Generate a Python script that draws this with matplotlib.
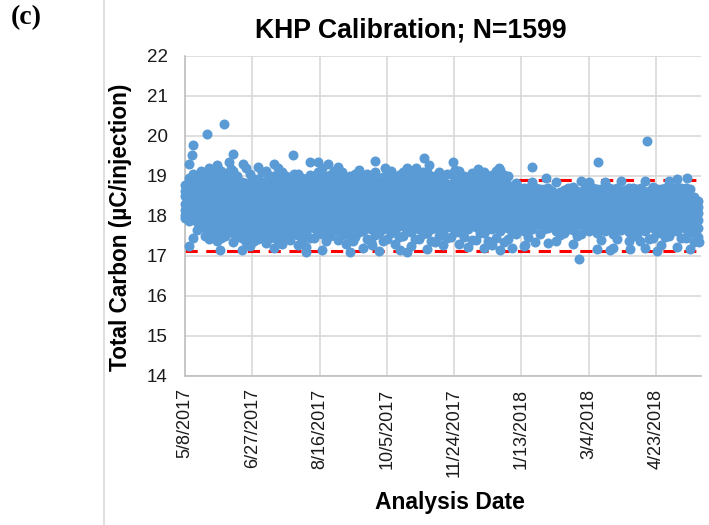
import numpy as np
import matplotlib
matplotlib.use('Agg')
import matplotlib.pyplot as plt

plt.rcParams['font.family'] = ['Liberation Sans', 'DejaVu Sans']

tick_days = [0, 50, 100, 150, 200, 250, 300, 350]
tick_labels = ['5/8/2017', '6/27/2017', '8/16/2017', '10/5/2017', '11/24/2017',
               '1/13/2018', '3/4/2018', '4/23/2018']
y_ticks = [14, 15, 16, 17, 18, 19, 20, 21, 22]
upper_limit = 18.89
lower_limit = 17.12

# days since 5/8/2017, each one has its readings in column_carbon
column_days = list(range(0, 384, 6))
column_carbon = [
    [17.95, 18.02, 18.15, 18.3, 18.5, 18.62, 18.78],
    [17.45, 17.98, 18.2, 18.4, 18.6, 18.85, 19.05],
    [17.75, 17.95, 18.18, 18.38, 18.55, 18.75, 18.95, 19.12],
    [17.42, 17.6, 17.82, 18.05, 18.25, 18.48, 18.7, 18.9, 19.2],
    [17.38, 17.55, 17.78, 17.98, 18.2, 18.42, 18.62, 18.82, 19.02, 19.22],
    [17.5, 17.72, 17.92, 18.12, 18.35, 18.55, 18.75, 18.98],
    [17.35, 17.58, 17.8, 18.02, 18.25, 18.45, 18.68, 18.88, 19.12],
    [17.15, 17.45, 17.68, 17.9, 18.1, 18.32, 18.52, 18.72, 18.85],
    [17.25, 17.5, 17.75, 17.95, 18.18, 18.4, 18.6, 18.82, 19.05],
    [17.42, 17.62, 17.85, 18.05, 18.28, 18.5, 18.7, 18.92, 19.22],
    [17.32, 17.55, 17.78, 18.0, 18.2, 18.42, 18.64, 18.86, 19.12],
    [17.2, 17.48, 17.7, 17.92, 18.12, 18.35, 18.55, 18.78, 18.98],
    [17.3, 17.58, 17.82, 18.02, 18.25, 18.46, 18.68, 18.9, 19.1],
    [17.4, 17.66, 17.88, 18.1, 18.3, 18.52, 18.72, 18.94],
    [17.28, 17.52, 17.75, 17.98, 18.2, 18.4, 18.62, 18.84, 19.05],
    [17.22, 17.6, 17.85, 18.05, 18.26, 18.48, 18.7, 18.92],
    [17.45, 17.7, 17.92, 18.12, 18.34, 18.55, 18.76, 19.0],
    [17.15, 17.55, 17.8, 18.0, 18.22, 18.44, 18.66, 18.88, 19.18],
    [17.5, 17.74, 17.95, 18.16, 18.38, 18.6, 18.8, 19.02],
    [17.4, 17.65, 17.86, 18.08, 18.3, 18.5, 18.72, 18.95, 19.22],
    [17.3, 17.58, 17.8, 18.02, 18.24, 18.46, 18.68, 18.9],
    [17.48, 17.72, 17.94, 18.14, 18.36, 18.58, 18.8, 19.05],
    [17.2, 17.62, 17.84, 18.05, 18.28, 18.5, 18.7, 18.96],
    [17.35, 17.68, 17.9, 18.12, 18.32, 18.54, 18.76, 19.0],
    [17.12, 17.56, 17.78, 18.0, 18.22, 18.42, 18.64, 18.86],
    [17.42, 17.7, 17.92, 18.14, 18.35, 18.56, 18.78, 19.02],
    [17.3, 17.62, 17.86, 18.06, 18.28, 18.48, 18.7, 18.92],
    [17.5, 17.74, 17.96, 18.18, 18.38, 18.6, 18.82, 19.08],
    [17.25, 17.6, 17.82, 18.04, 18.26, 18.46, 18.68, 18.9, 19.12],
    [17.42, 17.66, 17.9, 18.1, 18.32, 18.54, 18.75, 18.98],
    [17.18, 17.56, 17.8, 18.02, 18.22, 18.44, 18.66, 18.88, 19.08],
    [17.35, 17.7, 17.92, 18.14, 18.34, 18.56, 18.78, 19.0],
    [17.26, 17.62, 17.85, 18.06, 18.28, 18.5, 18.7, 18.94],
    [17.48, 17.72, 17.94, 18.16, 18.36, 18.58, 18.8, 19.04],
    [17.3, 17.6, 17.82, 18.04, 18.26, 18.48, 18.68, 18.9, 19.12],
    [17.22, 17.66, 17.88, 18.1, 18.3, 18.52, 18.74, 18.96],
    [17.4, 17.72, 17.94, 18.14, 18.36, 18.56, 18.78, 19.0],
    [17.2, 17.58, 17.8, 18.02, 18.24, 18.46, 18.66, 18.88, 19.1],
    [17.26, 17.68, 17.9, 18.12, 18.32, 18.54, 18.76, 19.02],
    [17.15, 17.62, 17.84, 18.06, 18.28, 18.48, 18.7, 18.92, 19.14],
    [17.42, 17.7, 17.92, 18.14, 18.34, 18.56, 18.78, 18.98],
    [17.55, 17.78, 18.0, 18.2, 18.42, 18.62, 18.82],
    [17.25, 17.62, 17.86, 18.08, 18.28, 18.5, 18.7],
    [17.68, 17.9, 18.12, 18.32, 18.54, 18.84],
    [17.55, 17.8, 18.02, 18.22, 18.44, 18.66],
    [17.7, 17.92, 18.12, 18.34, 18.56, 18.7],
    [17.38, 17.62, 17.85, 18.06, 18.28, 18.5, 18.84],
    [17.58, 17.78, 18.0, 18.22, 18.42, 18.64],
    [17.3, 17.65, 17.88, 18.1, 18.3, 18.52, 18.72],
    [17.55, 17.8, 18.02, 18.24, 18.46, 18.86],
    [17.62, 17.85, 18.06, 18.28, 18.5, 18.85],
    [17.18, 17.58, 17.8, 18.02, 18.24, 18.46, 18.68],
    [17.62, 17.86, 18.08, 18.3, 18.52, 18.85],
    [17.2, 17.55, 17.78, 18.0, 18.22, 18.44, 18.66],
    [17.65, 17.88, 18.1, 18.32, 18.54, 18.86],
    [17.38, 17.6, 17.82, 18.04, 18.26, 18.48, 18.7],
    [17.55, 17.78, 18.0, 18.22, 18.44, 18.66],
    [17.2, 17.62, 17.86, 18.08, 18.3, 18.52, 18.86],
    [17.45, 17.7, 17.92, 18.14, 18.36, 18.58, 18.72],
    [17.28, 17.58, 17.8, 18.02, 18.24, 18.46, 18.68],
    [17.5, 17.74, 17.96, 18.18, 18.4, 18.62, 18.86],
    [17.22, 17.62, 17.85, 18.06, 18.28, 18.5, 18.72, 18.92],
    [17.45, 17.68, 17.9, 18.12, 18.34, 18.56, 18.7],
    [17.35, 17.6, 17.82, 17.98, 18.15, 18.3, 18.48],
]

# second pass of readings, falling between the columns above
between_days = list(range(3, 384, 6))
between_carbon = [
    [17.25, 17.88, 18.1, 18.28, 18.5, 18.72, 18.95],
    [17.65, 17.85, 18.08, 18.3, 18.5, 18.72, 18.95],
    [17.5, 17.7, 17.92, 18.12, 18.32, 18.55, 18.78, 19.05],
    [17.72, 17.92, 18.15, 18.35, 18.58, 18.8, 19.1],
    [17.45, 17.65, 17.88, 18.1, 18.3, 18.52, 18.72, 18.92, 19.12],
    [17.62, 17.82, 18.02, 18.25, 18.45, 18.65, 18.88, 19.08],
    [17.48, 17.68, 17.9, 18.12, 18.35, 18.56, 18.78, 19.0],
    [17.35, 17.58, 17.8, 18.0, 18.22, 18.42, 18.62, 18.82, 19.18],
    [17.38, 17.62, 17.85, 18.06, 18.28, 18.5, 18.7, 18.92],
    [17.52, 17.74, 17.95, 18.16, 18.38, 18.6, 18.8, 19.1],
    [17.44, 17.66, 17.88, 18.1, 18.3, 18.52, 18.75, 18.98],
    [17.36, 17.6, 17.82, 18.02, 18.24, 18.45, 18.66, 18.88, 19.2],
    [17.46, 17.7, 17.92, 18.14, 18.36, 18.56, 18.78, 19.0],
    [17.55, 17.78, 17.98, 18.2, 18.42, 18.62, 18.84, 19.05],
    [17.4, 17.64, 17.86, 18.08, 18.3, 18.5, 18.72, 18.95],
    [17.44, 17.72, 17.95, 18.16, 18.36, 18.58, 18.8, 19.02],
    [17.58, 17.8, 18.02, 18.22, 18.44, 18.65, 18.86, 19.1],
    [17.38, 17.68, 17.9, 18.1, 18.32, 18.54, 18.76, 18.98],
    [17.62, 17.84, 18.05, 18.26, 18.48, 18.7, 18.9, 19.12],
    [17.52, 17.75, 17.96, 18.18, 18.4, 18.6, 18.82, 19.08],
    [17.44, 17.68, 17.9, 18.12, 18.34, 18.56, 18.78, 19.0],
    [17.6, 17.82, 18.04, 18.24, 18.46, 18.68, 18.9, 19.15],
    [17.42, 17.72, 17.94, 18.15, 18.38, 18.6, 18.8, 19.04],
    [17.52, 17.78, 18.0, 18.22, 18.42, 18.64, 18.86, 19.08],
    [17.36, 17.66, 17.88, 18.1, 18.32, 18.52, 18.74, 18.96],
    [17.56, 17.8, 18.02, 18.24, 18.45, 18.66, 18.88, 19.12],
    [17.46, 17.74, 17.96, 18.16, 18.38, 18.58, 18.8, 19.02],
    [17.62, 17.84, 18.06, 18.28, 18.48, 18.7, 18.92, 19.18],
    [17.42, 17.7, 17.92, 18.14, 18.36, 18.56, 18.78, 19.0],
    [17.54, 17.78, 18.0, 18.2, 18.42, 18.64, 18.85, 19.08],
    [17.38, 17.68, 17.9, 18.12, 18.32, 18.54, 18.76, 18.98],
    [17.5, 17.8, 18.02, 18.24, 18.44, 18.66, 18.88, 19.1],
    [17.44, 17.72, 17.95, 18.16, 18.38, 18.6, 18.8, 19.04],
    [17.6, 17.82, 18.04, 18.26, 18.46, 18.68, 18.9, 19.14],
    [17.46, 17.7, 17.92, 18.14, 18.36, 18.58, 18.78, 19.0],
    [17.4, 17.76, 17.98, 18.2, 18.4, 18.62, 18.84, 19.06],
    [17.56, 17.82, 18.04, 18.24, 18.46, 18.66, 18.88, 19.1],
    [17.38, 17.68, 17.9, 18.12, 18.34, 18.56, 18.76, 18.98],
    [17.44, 17.78, 18.0, 18.22, 18.42, 18.64, 18.86, 19.12],
    [17.34, 17.72, 17.94, 18.16, 18.38, 18.58, 18.8, 19.02],
    [17.56, 17.8, 18.02, 18.24, 18.44, 18.66, 18.72],
    [17.66, 17.88, 18.1, 18.3, 18.52, 18.7],
    [17.48, 17.74, 17.96, 18.18, 18.38, 18.6, 18.7],
    [17.78, 18.0, 18.22, 18.42, 18.64, 18.7],
    [17.66, 17.9, 18.12, 18.32, 18.54, 18.66],
    [17.8, 18.02, 18.22, 18.44, 18.62],
    [17.52, 17.74, 17.96, 18.16, 18.38, 18.6],
    [17.68, 17.88, 18.1, 18.32, 18.52, 18.7],
    [17.5, 17.76, 17.98, 18.2, 18.4, 18.62],
    [17.66, 17.9, 18.12, 18.34, 18.56, 18.7],
    [17.74, 17.96, 18.16, 18.38, 18.6, 18.7],
    [17.4, 17.68, 17.9, 18.12, 18.34, 18.56, 18.68],
    [17.74, 17.96, 18.18, 18.4, 18.62, 18.7],
    [17.42, 17.66, 17.88, 18.1, 18.32, 18.54, 18.7],
    [17.76, 17.98, 18.2, 18.42, 18.64],
    [17.5, 17.7, 17.92, 18.14, 18.36, 18.58, 18.7],
    [17.66, 17.88, 18.1, 18.32, 18.54, 18.7],
    [17.42, 17.74, 17.96, 18.18, 18.4, 18.62],
    [17.58, 17.8, 18.02, 18.24, 18.46, 18.68],
    [17.46, 17.68, 17.9, 18.12, 18.34, 18.56, 18.7],
    [17.62, 17.84, 18.06, 18.28, 18.5, 18.7],
    [17.44, 17.74, 17.96, 18.16, 18.38, 18.6, 18.7],
    [17.56, 17.78, 18.0, 18.22, 18.44, 18.66],
    [17.48, 17.7, 17.9, 18.06, 18.22, 18.38],
]

# points that stand clear of the main cloud
outlier_days = [29, 16, 6, 5, 3, 36, 80, 141, 93, 99, 106, 24, 33, 34, 43, 66, 149,
                178, 181, 172, 199, 218, 233, 258, 307, 343, 268, 373, 293, 165, 243,
                253, 260, 270, 338, 351, 375, 382, 331, 316, 123, 90, 26, 139, 125, 160]
outlier_carbon = [20.3, 20.05, 19.77, 19.52, 19.3, 19.55, 19.52, 19.37, 19.35, 19.33, 19.3,
                  19.27, 19.33, 19.17, 19.3, 19.3, 19.2, 19.45, 19.27, 19.2, 19.33, 19.17,
                  19.2, 19.22, 19.33, 19.87, 18.95, 18.95, 16.92, 17.1, 17.2, 17.27, 17.35,
                  17.32, 17.37, 17.12, 17.17, 17.35, 17.17, 17.15, 17.1, 17.1, 17.15, 17.27,
                  17.37, 17.15]

xs = []
ys = []
for day, readings in zip(column_days + between_days, column_carbon + between_carbon):
    for r in readings:
        xs.append(day)
        ys.append(r)
xs = xs + outlier_days
ys = ys + outlier_carbon

fig = plt.figure(figsize=(7.09, 5.25), dpi=100)
ax = fig.add_axes([185 / 709, 1 - 376 / 525, 516 / 709, 320.5 / 525])

ax.grid(True, color='#D9D9D9', linewidth=1.2)
ax.set_axisbelow(True)
ax.plot([0, 383.5], [upper_limit, upper_limit], color='#FF0000', linewidth=2.2,
        dashes=(4, 2.8), zorder=2)
ax.plot([0, 383.5], [lower_limit, lower_limit], color='#FF0000', linewidth=2.2,
        dashes=(4, 2.8), zorder=2)
ax.scatter(xs, ys, s=52, color='#5B9BD5', linewidths=0, zorder=3, clip_on=False)

ax.set_xlim(0, 383.5)
ax.set_ylim(14, 22)
ax.set_yticks(y_ticks)
ax.set_xticks(tick_days)
ax.set_xticklabels(tick_labels, rotation=90)
ax.tick_params(length=0, labelsize=13.5, labelcolor='#1a1a1a')
ax.tick_params(axis='x', pad=9, labelsize=13)
ax.tick_params(axis='y', pad=12.5)

for side in ['top', 'right']:
    ax.spines[side].set_visible(False)
for side in ['left', 'bottom']:
    ax.spines[side].set_color('#BFBFBF')
    ax.spines[side].set_linewidth(1.2)

fig.text(411 / 709, 1 - 30 / 525, 'KHP Calibration; N=1599', fontsize=19.2, fontweight='bold',
         ha='center', va='center')
fig.text(449.5 / 709, 1 - 502 / 525, 'Analysis Date', fontsize=16.5, fontweight='bold',
         ha='center', va='center')
fig.text(121 / 709, 1 - 227 / 525, 'Total Carbon (µC/injection)', fontsize=16.3,
         fontweight='bold', rotation=90, ha='center', va='center')
fig.text(11 / 709, 1 - 18 / 525, '(c)', fontsize=20, fontweight='bold',
         family='Liberation Serif', ha='left', va='center')

# panel divider on the left
fig.add_artist(plt.Line2D([103.5 / 709, 103.5 / 709], [0, 1], color='#D9D9D9', linewidth=1.2))

fig.savefig('out.png', dpi=100)
